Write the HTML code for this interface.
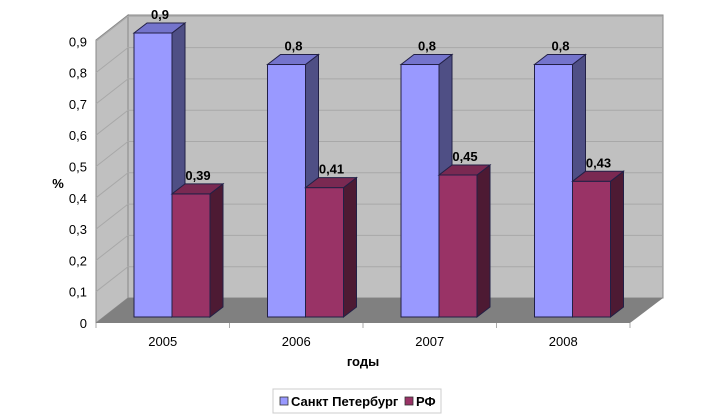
<!DOCTYPE html>
<html><head><meta charset="utf-8"><style>
body{margin:0;background:#fff;}
svg{display:block;font-family:"Liberation Sans",sans-serif;}
</style></head><body>
<svg id="chart" width="714" height="419" viewBox="0 0 714 419" xmlns="http://www.w3.org/2000/svg">
<polygon points="96,323 128,298 128,15 96,40" fill="#c0c0c0" stroke="#888" stroke-width="1"/>
<rect x="128" y="15" width="535" height="283" fill="#c0c0c0" stroke="#888" stroke-width="1"/>
<polygon points="96,323 630,323 663,298 128,298" fill="#808080"/>
<g id="grid"></g>
<g id="bars"></g>
<g id="labels"></g>
<text x="58" y="188" font-size="13" font-weight="bold" text-anchor="middle">%</text>
<text x="363" y="366" font-size="13" font-weight="bold" text-anchor="middle">годы</text>
<g>
<rect x="273" y="389" width="168" height="24" fill="#fff" stroke="#ccc"/>
<rect x="280" y="397" width="8" height="8" fill="#9999ff" stroke="#333" stroke-width="0.8"/>
<text x="291" y="406" font-size="13" font-weight="bold">Санкт Петербург</text>
<rect x="405" y="397" width="8" height="8" fill="#993366" stroke="#333" stroke-width="0.8"/>
<text x="416" y="406" font-size="13" font-weight="bold">РФ</text>
</g>
</svg>
<script>
const categories=["2005","2006","2007","2008"];
const spbValues=[0.9,0.8,0.8,0.8];
const rfValues=[0.39,0.41,0.45,0.43];
const spbLabels=["0,9","0,8","0,8","0,8"];
const rfLabels=["0,39","0,41","0,45","0,43"];
const yTicks=[0,0.1,0.2,0.3,0.4,0.5,0.6,0.7,0.8,0.9];
const yTickLabels=["0","0,1","0,2","0,3","0,4","0,5","0,6","0,7","0,8","0,9"];

const NS="http://www.w3.org/2000/svg";
const X0=96,X1=630,DX=32,DY=25,Y0=323,UNIT=313;
const catW=(X1-X0)/categories.length;
const yFront=v=>Y0-v*UNIT;
const barBase=317,barUnit=315.6;
const yBar=v=>barBase-v*barUnit;
function mk(tag,attrs,parent){const e=document.createElementNS(NS,tag);for(const k in attrs)e.setAttribute(k,attrs[k]);parent.appendChild(e);return e;}
const grid=document.getElementById('grid'),bars=document.getElementById('bars'),labels=document.getElementById('labels');
yTicks.forEach((t,i)=>{
  const y=yFront(t);
  if(t>0){
    const l=mk('polyline',{points:`${X0},${y} ${X0+DX},${y-DY} ${X1+DX},${y-DY}`,fill:'none',stroke:'#a8a8a8','stroke-width':1},grid);
    
    
  }
  const tx=mk('text',{x:87,y:y+5,'font-size':13,'text-anchor':'end'},labels);
  tx.textContent=yTickLabels[i];
  
  
});
for(let i=0;i<=categories.length;i++){
  const x=X0+i*catW;
  const tk=mk('line',{x1:x,y1:Y0,x2:x,y2:Y0+5,stroke:'#aaa'},grid);
  
  
}
function bar(x,w,v,front,side,top,name){
  const yt=yBar(v),d=13,dy=10;
  const g=mk('g',{},bars);
  
  
  mk('rect',{x:x,y:yt,width:w,height:barBase-yt,fill:front,stroke:'#222046','stroke-width':1},g);
  mk('polygon',{points:`${x+w},${yt} ${x+w+d},${yt-dy} ${x+w+d},${barBase-dy} ${x+w},${barBase}`,fill:side,stroke:'#222046','stroke-width':1},g);
  mk('polygon',{points:`${x},${yt} ${x+d},${yt-dy} ${x+w+d},${yt-dy} ${x+w},${yt}`,fill:top,stroke:'#222046','stroke-width':1},g);
  return yt;
}
categories.forEach((c,i)=>{
  const cx=X0+i*catW;
  const bx=cx+38,bw=38;
  const y1=bar(bx,bw,spbValues[i],'#9999ff','#4f4f85','#7474cc','bar-spb-'+c);
  const y2=bar(bx+bw,bw,rfValues[i],'#993366','#4d1a33','#7a2952','bar-rf-'+c);
  const l1=mk('text',{x:bx+bw/2+7,y:y1-14,'font-size':13,'font-weight':'bold','text-anchor':'middle'},labels);
  l1.textContent=spbLabels[i];
  
  
  const l2=mk('text',{x:bx+bw*1.5+7,y:y2-14,'font-size':13,'font-weight':'bold','text-anchor':'middle'},labels);
  l2.textContent=rfLabels[i];
  
  
  const xl=mk('text',{x:cx+catW/2,y:346,'font-size':13,'text-anchor':'middle'},labels);
  xl.textContent=c;
  
  
});
</script>
</body></html>
